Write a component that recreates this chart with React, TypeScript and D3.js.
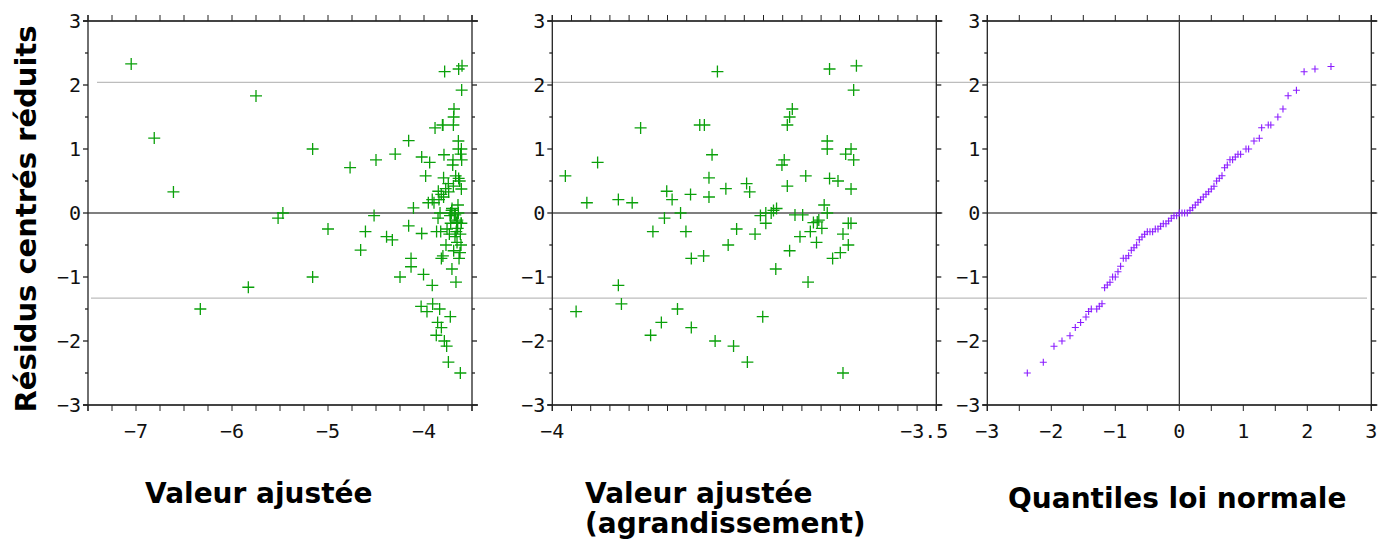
import React from 'react';
import * as d3 from 'd3';

// Fitted value / standardized residual pairs with fitted value < -4 (only in panel 1)
const outerPoints: [number, number][] = [
  [-7.05, 2.33], [-6.81, 1.17], [-6.61, 0.33], [-6.33, -1.5], [-5.83, -1.16], [-5.75, 1.83],
  [-5.52, -0.08], [-5.47, 0.0], [-5.16, 1.0], [-5.16, -1.0], [-5.0, -0.25], [-4.77, 0.71],
  [-4.66, -0.58], [-4.61, -0.29], [-4.52, -0.04], [-4.5, 0.83], [-4.39, -0.37], [-4.33, -0.42],
  [-4.3, 0.92], [-4.25, -1.0], [-4.16, 1.13], [-4.16, -0.2], [-4.135, -0.71], [-4.135, -0.84],
  [-4.11, 0.08], [-4.024, 0.875], [-4.024, -0.32], [-4.005, -0.96], [-4.03, -1.46],
];

// Pairs with fitted value in [-4, -3.5] (panels 1 and 2)
const innerPoints: [number, number][] = [
  [-3.983, 0.58], [-3.969, -1.54], [-3.955, 0.16], [-3.941, 0.79], [-3.914, 0.21], [-3.914, -1.13],
  [-3.91, -1.42], [-3.896, 0.16], [-3.885, 1.33], [-3.872, -1.91], [-3.869, -0.29], [-3.858, -1.71],
  [-3.854, -0.08], [-3.851, 0.34], [-3.844, 0.21], [-3.837, -1.5], [-3.833, 0.0], [-3.826, -0.29],
  [-3.82, 0.29], [-3.819, -0.71], [-3.819, -1.79], [-3.808, 1.375], [-3.802, 1.375], [-3.803, -0.67],
  [-3.796, 0.55], [-3.796, 0.25], [-3.792, 0.91], [-3.788, -2.0], [-3.785, 2.21], [-3.774, 0.38],
  [-3.771, -0.5], [-3.764, -2.08], [-3.76, -0.25], [-3.747, 0.46], [-3.746, -2.33], [-3.743, 0.33],
  [-3.736, -0.33], [-3.729, -0.04], [-3.726, -1.62], [-3.722, -0.16], [-3.722, 0.0], [-3.715, 0.0],
  [-3.712, 0.04], [-3.708, 0.07], [-3.709, -0.875], [-3.698, 0.83], [-3.701, 0.75], [-3.694, 1.375],
  [-3.691, 1.5], [-3.6875, 1.625], [-3.694, 0.42], [-3.691, -0.59], [-3.684, -0.03], [-3.674, -0.03],
  [-3.6775, -0.37], [-3.67, 0.58], [-3.667, -1.08], [-3.664, -0.29], [-3.66, -0.15], [-3.653, -0.11],
  [-3.649, -0.24], [-3.656, -0.46], [-3.655, -0.14], [-3.646, 0.125], [-3.642, 0.0], [-3.642, 1.125],
  [-3.642, 1.0], [-3.639, 2.25], [-3.639, 0.54], [-3.635, -0.71], [-3.628, 0.5], [-3.625, -0.62],
  [-3.6215, -0.33], [-3.6215, -2.5], [-3.618, 0.92], [-3.6146, -0.16], [-3.6111, -0.16], [-3.6146, -0.5],
  [-3.611, 1.0], [-3.611, 0.375], [-3.6076, 0.83], [-3.6076, 1.92], [-3.604, 2.3],
];

// Normal QQ plot: theoretical quantiles and sorted residuals
const qqTheoretical: number[] = [
  -2.375, -2.125, -1.958, -1.833, -1.708, -1.625, -1.542, -1.458, -1.417, -1.375, -1.29, -1.25, -1.208,
  -1.167, -1.125, -1.083, -1.042, -1.0, -0.958, -0.917, -0.875, -0.833, -0.792, -0.75, -0.708, -0.667,
  -0.625, -0.583, -0.542, -0.5, -0.458, -0.417, -0.375, -0.333, -0.292, -0.25, -0.208, -0.167, -0.125,
  -0.083, -0.042, 0.0, 0.042, 0.083, 0.125, 0.167, 0.208, 0.25, 0.292, 0.333, 0.375, 0.417, 0.458, 0.5,
  0.542, 0.583, 0.625, 0.667, 0.708, 0.75, 0.792, 0.833, 0.875, 0.917, 0.958, 1.042, 1.083, 1.167, 1.25,
  1.287, 1.39, 1.43, 1.54, 1.62, 1.7, 1.83, 1.95, 2.12, 2.37,
];
const qqSample: number[] = [
  -2.5, -2.333, -2.083, -2.0, -1.917, -1.79, -1.71, -1.625, -1.54, -1.5, -1.5, -1.458, -1.417,
  -1.167, -1.125, -1.083, -1.0, -1.0, -0.917, -0.833, -0.708, -0.708, -0.667, -0.583, -0.542, -0.5,
  -0.417, -0.375, -0.333, -0.292, -0.292, -0.292, -0.25, -0.25, -0.208, -0.167, -0.167, -0.125, -0.083,
  -0.042, -0.042, 0.0, 0.0, 0.0, 0.0, 0.042, 0.083, 0.125, 0.167, 0.208, 0.25, 0.292, 0.333, 0.375,
  0.417, 0.5, 0.542, 0.583, 0.708, 0.75, 0.833, 0.833, 0.875, 0.917, 0.917, 1.0, 1.0, 1.125, 1.167,
  1.333, 1.375, 1.375, 1.5, 1.625, 1.833, 1.917, 2.208, 2.25, 2.29,
];

const referenceLevels = [2.04, -1.33];
const yTickLabels = [-3, -2, -1, 0, 1, 2, 3];
const panel1Labels = [-7, -6, -5, -4];
const panel2Labels = [-4, -3.5];
const panel3Labels = [-3, -2, -1, 0, 1, 2, 3];

const W = 1389;
const H = 542;
const TOP = 21;
const BOTTOM = 405;
const MONO = '"DejaVu Sans Mono", monospace';
const SANS = '"DejaVu Sans", sans-serif';

const fmt = (v: number) => (v < 0 ? '\u2212' + String(-v) : String(v));

type PanelProps = {
  left: number;
  right: number;
  domain: [number, number];
  step: number;
  labels: number[];
  points: [number, number][];
  color: string;
  arm: number;
  sw: number;
  qq?: boolean;
  lastLabelEnd?: boolean;
};

function Panel(p: PanelProps) {
  const x = d3.scaleLinear().domain(p.domain).range([p.left, p.right]);
  const y = d3.scaleLinear().domain([-3, 3]).range([BOTTOM, TOP]);
  const xt = d3.range(0, Math.round((p.domain[1] - p.domain[0]) / p.step) + 1).map((i) => p.domain[0] + i * p.step);
  const yt = d3.range(0, 13).map((i) => -3 + i * 0.5);
  const frame = '#222';
  const plus = (px: number, py: number) =>
    `M${px - p.arm},${py}H${px + p.arm}M${px},${py - p.arm}V${py + p.arm}`;
  const path = p.points
    .filter((d) => d[0] >= p.domain[0] - 1e-9 && d[0] <= p.domain[1] + 1e-9)
    .map((d) => plus(x(d[0]), y(d[1])))
    .join('');
  return (
    <g>
      {/* zero lines */}
      <line x1={p.left} x2={p.right + 6} y1={y(0)} y2={y(0)} stroke={p.qq ? '#111' : '#555'} strokeWidth={p.qq ? 1.1 : 1.5} />
      {p.qq && <line x1={x(0)} x2={x(0)} y1={TOP} y2={BOTTOM} stroke="#111" strokeWidth={1.1} />}
      {/* frame */}
      <line x1={p.left - 5} x2={p.right + 6} y1={TOP} y2={TOP} stroke="#444" strokeWidth={2} />
      <line x1={p.left - 5} x2={p.right + 6} y1={BOTTOM} y2={BOTTOM} stroke="#444" strokeWidth={2} />
      <line x1={p.left} x2={p.left} y1={TOP - 6} y2={BOTTOM + 6} stroke={frame} strokeWidth={1.3} />
      <line x1={p.right} x2={p.right} y1={TOP - 6} y2={BOTTOM + 6} stroke={frame} strokeWidth={1.3} />
      {/* x ticks top & bottom */}
      {xt.map((v, i) => (
        <g key={'xt' + i}>
          <line x1={x(v)} x2={x(v)} y1={TOP} y2={TOP - 6} stroke={frame} strokeWidth={1} />
          <line x1={x(v)} x2={x(v)} y1={BOTTOM} y2={BOTTOM + 6} stroke={frame} strokeWidth={1} />
        </g>
      ))}
      {/* y ticks left & right */}
      {yt.map((v, i) => {
        const major = Math.abs(v - Math.round(v)) < 1e-9;
        const len = major ? 5 : 3;
        return (
          <g key={'yt' + i}>
            <line x1={p.left} x2={p.left - len} y1={y(v)} y2={y(v)} stroke={frame} strokeWidth={1.3} />
            <line x1={p.right} x2={p.right + len} y1={y(v)} y2={y(v)} stroke={frame} strokeWidth={1.3} />
          </g>
        );
      })}
      {/* y labels */}
      {yTickLabels.map((v) => (
        <text key={'yl' + v} x={p.left - 7} y={y(v)} dy="0.36em" textAnchor="end" fontFamily={MONO} fontSize={20} fill="#111">
          {fmt(v)}
        </text>
      ))}
      {/* x labels */}
      {p.labels.map((v, i) => {
        const last = p.lastLabelEnd && i === p.labels.length - 1;
        return (
          <text key={'xl' + v} x={last ? x(v) + 12 : x(v)} y={438} textAnchor={last ? 'end' : 'middle'} fontFamily={MONO} fontSize={20} fill="#111">
            {fmt(v)}
          </text>
        );
      })}
      <path d={path} stroke={p.color} strokeWidth={p.sw} fill="none" />
    </g>
  );
}

export default function App() {
  const allPoints = [...outerPoints, ...innerPoints];
  const qqPoints: [number, number][] = qqTheoretical.map((t, i) => [t, qqSample[i]]);
  const y = d3.scaleLinear().domain([-3, 3]).range([BOTTOM, TOP]);
  return (
    <div style={{ position: 'absolute', left: 0, top: 0 }}>
      <svg width={W} height={H} style={{ display: 'block', background: '#fff' }}>
        {referenceLevels.map((v, i) => (
          <line key={'ref' + i} x1={i === 0 ? 97 : 91} x2={i === 0 ? 1370 : 1367} y1={y(v)} y2={y(v)} stroke="#bdbdbd" strokeWidth={1.2} />
        ))}
        <Panel left={88} right={472} domain={[-7.5, -3.5]} step={0.25} labels={panel1Labels} points={allPoints} color="#0aa00a" arm={6} sw={1.3} />
        <Panel left={552.3} right={936.3} domain={[-4, -3.5]} step={0.025} labels={panel2Labels} points={innerPoints} color="#0aa00a" arm={6} sw={1.3} lastLabelEnd />
        <Panel left={987.3} right={1371.3} domain={[-3, 3]} step={0.5} labels={panel3Labels} points={qqPoints} color="#8a1cff" arm={3.5} sw={1.1} qq />
        <text transform="translate(36,219) rotate(-90)" textAnchor="middle" fontFamily={SANS} fontWeight="bold" fontSize={29} fill="#000">
          Résidus centrés réduits
        </text>
        <text x={145} y={503} fontFamily={SANS} fontWeight="bold" fontSize={28} fill="#000">Valeur ajustée</text>
        <text x={585} y={503} fontFamily={SANS} fontWeight="bold" fontSize={28} fill="#000">Valeur ajustée</text>
        <text x={585} y={533} fontFamily={SANS} fontWeight="bold" fontSize={28} fill="#000">(agrandissement)</text>
        <text x={1008} y={508} fontFamily={SANS} fontWeight="bold" fontSize={28} fill="#000">Quantiles loi normale</text>
      </svg>
    </div>
  );
}
